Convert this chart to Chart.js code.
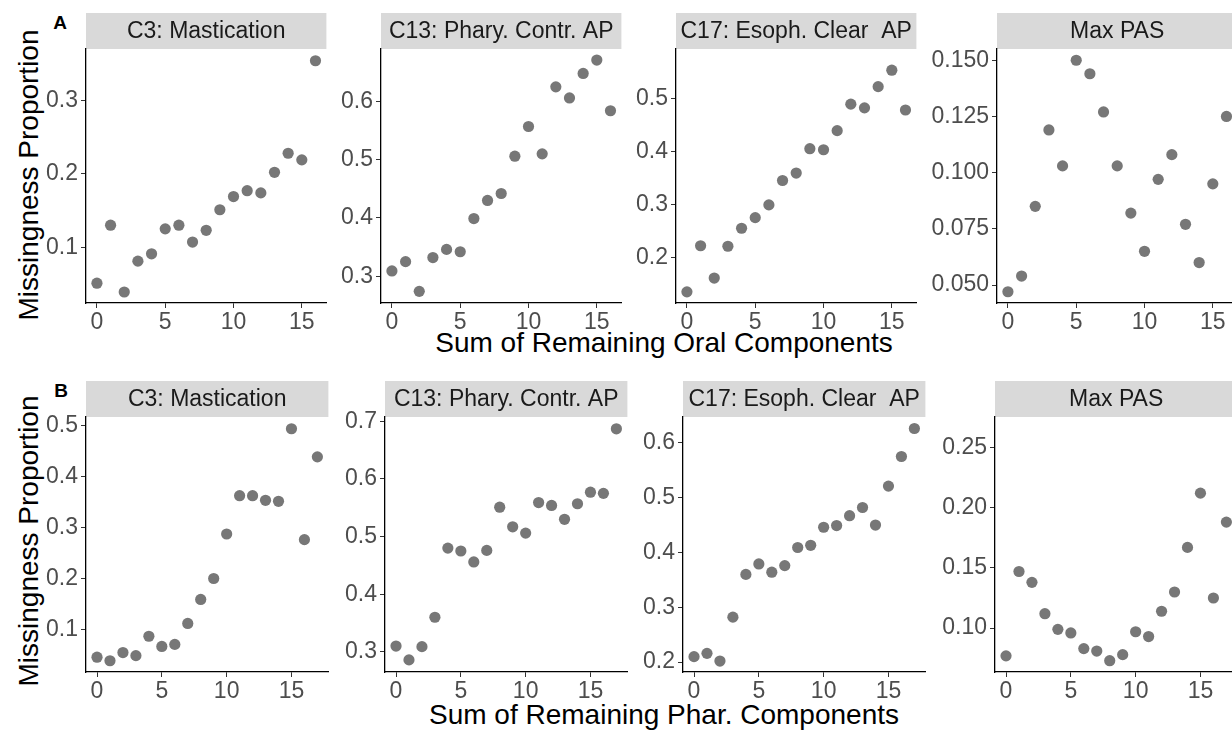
<!DOCTYPE html>
<html>
<head>
<meta charset="utf-8">
<script src="https://cdn.jsdelivr.net/npm/chart.js@4.4.1/dist/chart.umd.min.js"></script>
<style>
  html, body { margin: 0; padding: 0; background: #fff; }
  body { position: relative; width: 1232px; height: 731px; overflow: hidden;
         font-family: 'Liberation Sans', Arial, sans-serif; }
  canvas { position: absolute; }
  .lab { position: absolute; white-space: nowrap; color: #000; }
  .ytitle { font-size: 28px; transform: translate(-50%, -50%) rotate(-90deg); }
  .xtitle { font-size: 28px; transform: translate(-50%, -50%); }
  .tag { font-size: 19px; font-weight: bold; transform: translate(-50%, -50%); }
</style>
</head>
<body>

<div class="lab tag" style="left:60px;top:23px">A</div>
<div class="lab tag" style="left:61px;top:391px">B</div>
<div class="lab ytitle" style="left:29px;top:175px">Missingness Proportion</div>
<div class="lab ytitle" style="left:29px;top:541px">Missingness Proportion</div>
<div class="lab xtitle" style="left:664px;top:343px">Sum of Remaining Oral Components</div>
<div class="lab xtitle" style="left:664px;top:715px">Sum of Remaining Phar. Components</div>

<script>
// x values
const xOral = [0, 1, 2, 3, 4, 5, 6, 7, 8, 9, 10, 11, 12, 13, 14, 15, 16];
const xPhar = [0, 1, 2, 3, 4, 5, 6, 7, 8, 9, 10, 11, 12, 13, 14, 15, 16, 17];
const xTicks = [0, 5, 10, 15];

const panelTitles = ['C3: Mastication', 'C13: Phary. Contr. AP', 'C17: Esoph. Clear  AP', 'Max PAS'];

// row A: by sum of remaining oral components
const oralMastication = [0.051, 0.130, 0.039, 0.081, 0.091, 0.125, 0.130, 0.107, 0.123, 0.151, 0.169, 0.177, 0.174, 0.202, 0.228, 0.219, 0.354];
const oralPharContr   = [0.309, 0.325, 0.274, 0.332, 0.346, 0.342, 0.399, 0.430, 0.442, 0.506, 0.557, 0.510, 0.625, 0.606, 0.648, 0.671, 0.584];
const oralEsophClear  = [0.136, 0.223, 0.162, 0.222, 0.256, 0.276, 0.300, 0.346, 0.360, 0.406, 0.404, 0.440, 0.490, 0.483, 0.523, 0.554, 0.479];
const oralMaxPas      = [0.047, 0.054, 0.085, 0.119, 0.103, 0.150, 0.144, 0.127, 0.103, 0.082, 0.065, 0.097, 0.108, 0.077, 0.060, 0.095, 0.125];

// row B: by sum of remaining pharyngeal components
const pharMastication = [0.046, 0.039, 0.055, 0.049, 0.087, 0.067, 0.071, 0.112, 0.159, 0.200, 0.287, 0.362, 0.362, 0.353, 0.351, 0.493, 0.276, 0.438];
const pharPharContr   = [0.310, 0.286, 0.309, 0.360, 0.480, 0.475, 0.456, 0.476, 0.551, 0.517, 0.506, 0.559, 0.554, 0.530, 0.557, 0.577, 0.575, 0.687];
const pharEsophClear  = [0.210, 0.216, 0.202, 0.282, 0.360, 0.379, 0.364, 0.376, 0.409, 0.413, 0.446, 0.449, 0.467, 0.482, 0.450, 0.521, 0.575, 0.626];
const pharMaxPas      = [0.077, 0.147, 0.138, 0.112, 0.099, 0.096, 0.083, 0.081, 0.073, 0.078, 0.097, 0.093, 0.114, 0.130, 0.167, 0.212, 0.125, 0.188];

// y tick labels per panel
const yTicksA = [[0.1, 0.2, 0.3], [0.3, 0.4, 0.5, 0.6], [0.2, 0.3, 0.4, 0.5], [0.050, 0.075, 0.100, 0.125, 0.150]];
const yTicksB = [[0.1, 0.2, 0.3, 0.4, 0.5], [0.3, 0.4, 0.5, 0.6, 0.7], [0.2, 0.3, 0.4, 0.5, 0.6], [0.10, 0.15, 0.20, 0.25]];
const yDecA = [1, 1, 1, 3];
const yDecB = [1, 1, 1, 2];

// axis limits
const xRangeA = [-0.8, 16.8];
const xRangeB = [-0.85, 17.85];
const yRangeA = [[0.024, 0.370], [0.254, 0.690], [0.115, 0.594], [0.042, 0.155]];
const yRangeB = [[0.017, 0.516], [0.265, 0.7075], [0.182, 0.647], [0.0636, 0.2752]];

const FONT = "'Liberation Sans', Arial, sans-serif";
Chart.defaults.font.family = FONT;

const Y_AXIS_W = 80;
const X_AXIS_H = 35;

// grey facet strip above each panel
const stripPlugin = {
    id: 'strip',
    beforeDraw(chart, args, opts) {
        const ctx = chart.ctx;
        const a = chart.chartArea;
        ctx.save();
        ctx.fillStyle = '#d9d9d9';
        ctx.fillRect(a.left, a.top - opts.height, a.right - a.left, opts.height);
        ctx.fillStyle = '#1a1a1a';
        ctx.font = '23px ' + FONT;
        ctx.textAlign = 'center';
        ctx.textBaseline = 'middle';
        ctx.fillText(opts.text, (a.left + a.right) / 2, a.top - opts.height / 2 + 1);
        ctx.restore();
    }
};

function makePanel(left, top, plotW, plotH, stripH, xs, ys, xRange, yRange, yTicks, dec, title) {
    const canvas = document.createElement('canvas');
    canvas.width = Y_AXIS_W + plotW;
    canvas.height = stripH + plotH + X_AXIS_H;
    canvas.style.left = left - Y_AXIS_W + 'px';
    canvas.style.top = top + 'px';
    document.body.appendChild(canvas);

    new Chart(canvas, {
        type: 'scatter',
        data: {
            datasets: [{
                data: xs.map((x, i) => ({ x: x, y: ys[i] })),
                backgroundColor: '#777777',
                borderWidth: 0,
                pointRadius: 5.6,
                pointHoverRadius: 5.6
            }]
        },
        options: {
            responsive: false,
            animation: false,
            devicePixelRatio: 1,
            layout: { padding: { top: stripH, left: 0, right: 0, bottom: 0 } },
            plugins: {
                legend: { display: false },
                tooltip: { enabled: false },
                strip: { text: title, height: stripH }
            },
            scales: {
                x: {
                    type: 'linear',
                    min: xRange[0],
                    max: xRange[1],
                    afterFit: s => { s.height = X_AXIS_H; },
                    afterBuildTicks: s => { s.ticks = xTicks.map(v => ({ value: v })); },
                    ticks: { color: '#4d4d4d', font: { size: 23 }, padding: 1, maxRotation: 0, callback: v => String(v) },
                    grid: { drawOnChartArea: false, drawTicks: true, tickLength: 5, color: '#333333' },
                    border: { display: true, color: '#000000', width: 1.3 }
                },
                y: {
                    type: 'linear',
                    min: yRange[0],
                    max: yRange[1],
                    afterFit: s => { s.width = Y_AXIS_W; },
                    afterBuildTicks: s => { s.ticks = yTicks.map(v => ({ value: v })); },
                    ticks: { color: '#4d4d4d', font: { size: 23 }, padding: 3, callback: v => v.toFixed(dec) },
                    grid: { drawOnChartArea: false, drawTicks: true, tickLength: 5, color: '#333333' },
                    border: { display: true, color: '#000000', width: 1.3 }
                }
            }
        },
        plugins: [stripPlugin]
    });
}

// row A
const seriesA = [oralMastication, oralPharContr, oralEsophClear, oralMaxPas];
const leftsA = [86, 381, 676, 997];
for (let i = 0; i < 4; i++) {
    makePanel(leftsA[i], 13, 246, 254, 36, xOral, seriesA[i], xRangeA, yRangeA[i], yTicksA[i], yDecA[i], panelTitles[i]);
}

// row B
const seriesB = [pharMastication, pharPharContr, pharEsophClear, pharMaxPas];
const leftsB = [86, 385, 683, 995];
for (let i = 0; i < 4; i++) {
    makePanel(leftsB[i], 381, 248, 255, 36, xPhar, seriesB[i], xRangeB, yRangeB[i], yTicksB[i], yDecB[i], panelTitles[i]);
}
</script>
</body>
</html>
